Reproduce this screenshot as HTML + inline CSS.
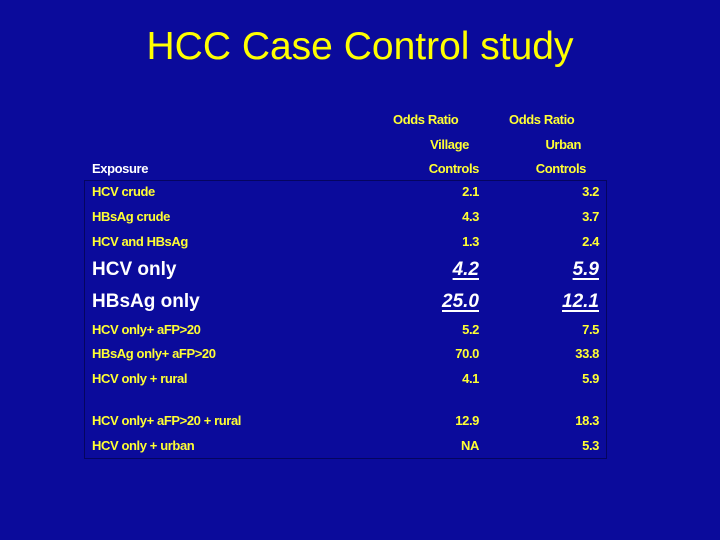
<!DOCTYPE html>
<html><head><style>
body{margin:0;width:720px;height:540px;background:#0b0b9b;position:relative;overflow:hidden;font-family:"Liberation Sans",Arial,sans-serif;}
.t{position:absolute;white-space:nowrap;font-weight:bold;font-size:13px;color:#ffff33;line-height:16px;letter-spacing:-0.4px}
.w{color:#fff}
.r{text-align:right}
.big{font-size:19px;line-height:22px;color:#fff;letter-spacing:0}
.u{font-style:italic;text-decoration:underline;text-decoration-thickness:2px;text-underline-offset:3px}
</style></head><body>
<div style="position:absolute;left:0;width:720px;top:24px;text-align:center;color:#ffff00;font-size:39px;line-height:46px">HCC Case Control study</div>
<div style="position:absolute;left:84px;top:180px;width:521px;height:277px;border:1px solid #050560"></div>
<div class="t" style="left:393px;top:112px">Odds Ratio</div>
<div class="t" style="left:509px;top:112px">Odds Ratio</div>
<div class="t r" style="right:251px;top:137px">Village</div>
<div class="t r" style="right:139px;top:137px">Urban</div>
<div class="t w" style="left:92px;top:161px">Exposure</div>
<div class="t r" style="right:241px;top:161px">Controls</div>
<div class="t r" style="right:134px;top:161px">Controls</div>

<div class="t" style="left:92px;top:184px">HCV crude</div><div class="t r" style="right:241px;top:184px">2.1</div><div class="t r" style="right:121px;top:184px">3.2</div>
<div class="t" style="left:92px;top:209px">HBsAg crude</div><div class="t r" style="right:241px;top:209px">4.3</div><div class="t r" style="right:121px;top:209px">3.7</div>
<div class="t" style="left:92px;top:234px">HCV and HBsAg</div><div class="t r" style="right:241px;top:234px">1.3</div><div class="t r" style="right:121px;top:234px">2.4</div>
<div class="t big" style="left:92px;top:259px">HCV only</div><div class="t big r u" style="right:241px;top:259px">4.2</div><div class="t big r u" style="right:121px;top:259px">5.9</div>
<div class="t big" style="left:92px;top:291px">HBsAg only</div><div class="t big r u" style="right:241px;top:291px">25.0</div><div class="t big r u" style="right:121px;top:291px">12.1</div>
<div class="t" style="left:92px;top:322px">HCV only+ aFP&gt;20</div><div class="t r" style="right:241px;top:322px">5.2</div><div class="t r" style="right:121px;top:322px">7.5</div>
<div class="t" style="left:92px;top:346px">HBsAg only+ aFP&gt;20</div><div class="t r" style="right:241px;top:346px">70.0</div><div class="t r" style="right:121px;top:346px">33.8</div>
<div class="t" style="left:92px;top:371px">HCV only + rural</div><div class="t r" style="right:241px;top:371px">4.1</div><div class="t r" style="right:121px;top:371px">5.9</div>
<div class="t" style="left:92px;top:413px">HCV only+ aFP&gt;20 + rural</div><div class="t r" style="right:241px;top:413px">12.9</div><div class="t r" style="right:121px;top:413px">18.3</div>
<div class="t" style="left:92px;top:438px">HCV only + urban</div><div class="t r" style="right:241px;top:438px">NA</div><div class="t r" style="right:121px;top:438px">5.3</div>
</body></html>
